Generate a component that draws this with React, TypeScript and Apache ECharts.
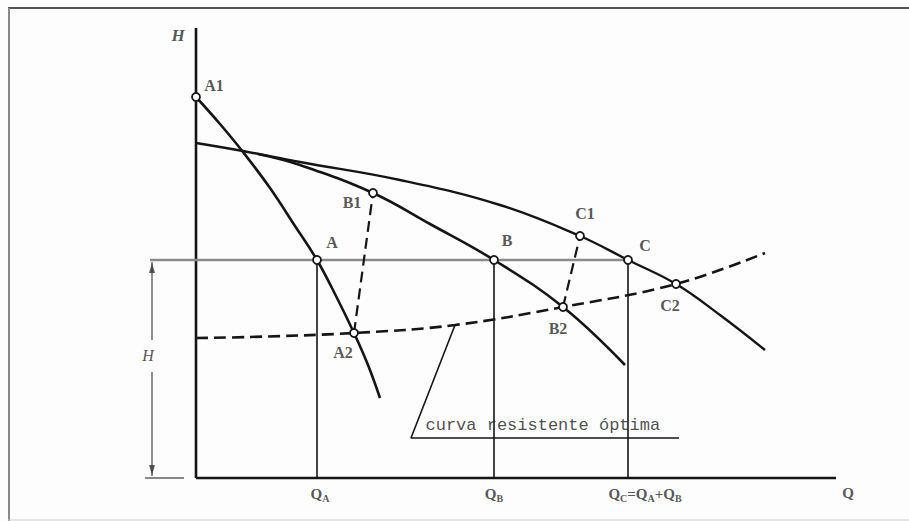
import React, { useEffect, useRef } from "react";
import * as echarts from "echarts";

// Units: Q (horizontal) and H (vertical)
const axisQ = [[0, 0], [64, 0]];
const axisH = [[0, 0], [0, 45]];
const curveA = [[0, 38.1], [2.4, 35.4], [4.7, 32.6], [7.4, 29.0], [9.9, 25.2], [12.1, 21.8], [14.0, 18.2], [15.8, 14.5], [17.2, 11.3], [18.4, 8.0]];
const curveB = [[6.2, 32.4], [10.4, 31.3], [17.7, 28.5], [23.4, 25.4], [29.8, 21.8], [36.7, 17.1], [42.9, 11.3]];
const curveC = [[0, 33.5], [4.7, 32.7], [10.4, 31.6], [20.4, 29.8], [30.4, 27.3], [38.4, 24.2], [43.2, 21.8], [48.0, 19.4], [52.4, 16.3], [56.9, 12.8]];
const resistance = [[0, 14.0], [5.4, 14.1], [15.8, 14.5], [25.9, 15.3], [36.7, 17.1], [48.0, 19.4], [56.9, 22.5]];
const connectorAB = [[15.8, 14.5], [17.7, 28.5]];
const connectorBC = [[36.7, 17.1], [38.4, 24.2]];
const headLevel = [[-4.6, 21.8], [43.2, 21.8]];
const verticalA = [[12.1, 0], [12.1, 21.8]];
const verticalB = [[29.8, 0], [29.8, 21.8]];
const verticalC = [[43.2, 0], [43.2, 21.8]];
const dimUpper = [[-4.4, 21.6], [-4.4, 13.8]];
const dimLower = [[-4.4, 10.6], [-4.4, 0.2]];
const dimBase = [[-5.1, 0], [-1.2, 0]];
const leader = [[25.9, 15.3], [21.5, 4.0], [48.3, 4.0]];

const pointNames = ["A1", "B1", "A", "B", "C1", "C", "A2", "B2", "C2"];
const pointValues = [[0, 38.1], [17.7, 28.5], [12.1, 21.8], [29.8, 21.8], [38.4, 24.2], [43.2, 21.8], [15.8, 14.5], [36.7, 17.1], [48.0, 19.4]];
const pointLabelPos = [[1.8, 39.3], [15.6, 27.6], [13.6, 23.6], [31.1, 23.8], [38.9, 26.5], [44.9, 23.3], [14.7, 12.6], [36.2, 15.0], [47.4, 17.3]];

const tickLabels = ["{q|Q}{s|A}", "{q|Q}{s|B}", "{q|Q}{s|C}{q|=Q}{s|A}{q|+Q}{s|B}", "{q|Q}"];
const tickPos = [[12.4, -1.6], [29.8, -1.6], [44.9, -1.6], [65.2, -1.5]];
const curveLabel = "curva resistente óptima";
const curveLabelPos = [22.9, 5.3];
const axisHPos = [-1.8, 44.3];
const dimHPos = [-4.8, 12.3];

const INK = "#151515";

export default function App() {
  const ref = useRef<HTMLDivElement>(null);
  useEffect(() => {
    if (!ref.current) return;
    const chart = echarts.init(ref.current, undefined, { renderer: "svg" });
    const lineS = (data: number[][], opts: any = {}) => ({
      type: "line",
      data,
      symbol: "none",
      clip: false,
      smooth: opts.smooth ?? false,
      silent: true,
      z: opts.z ?? 2,
      lineStyle: {
        color: opts.color ?? INK,
        width: opts.width ?? 2.5,
        type: opts.type ?? "solid",
        cap: "butt",
      },
    });
    const textS = (items: any[], z = 5) => ({
      type: "scatter",
      symbolSize: 1,
      clip: false,
      silent: true,
      z,
      itemStyle: { color: "transparent" },
      data: items,
    });
    const serif = "'Liberation Serif', 'DejaVu Serif', serif";
    const option: any = {
      animation: false,
      backgroundColor: "#fdfdfd",
      grid: { left: 116, right: 53, top: 28, bottom: 13 },
      xAxis: {
        type: "value",
        min: -8,
        max: 66,
        axisLine: { show: false },
        axisTick: { show: false },
        axisLabel: { show: false },
        splitLine: { show: false },
      },
      yAxis: {
        type: "value",
        min: -3,
        max: 45,
        axisLine: { show: false },
        axisTick: { show: false },
        axisLabel: { show: false },
        splitLine: { show: false },
      },
      graphic: [
        { type: "line", shape: { x1: 8, y1: 8, x2: 909, y2: 8 }, style: { stroke: "#555", lineWidth: 2 } },
        { type: "line", shape: { x1: 9, y1: 8, x2: 9, y2: 521 }, style: { stroke: "#888", lineWidth: 2 } },
        { type: "line", shape: { x1: 8, y1: 520, x2: 909, y2: 520 }, style: { stroke: "#ccc", lineWidth: 1 } },
      ],
      series: [
        lineS(axisQ, { width: 2.6 }),
        lineS(axisH, { width: 2.6 }),
        lineS(headLevel, { color: "#8a8a8a", width: 2.5 }),
        lineS(verticalA, { width: 1.6 }),
        lineS(verticalB, { width: 1.6 }),
        lineS(verticalC, { width: 1.6 }),
        lineS(dimUpper, { color: "#555", width: 1.3 }),
        lineS(dimLower, { color: "#555", width: 1.3 }),
        lineS(dimBase, { color: "#888", width: 2 }),
        lineS(leader, { width: 1.6 }),
        lineS(curveC, { smooth: 0.4, width: 2.4 }),
        lineS(curveB, { smooth: 0.4, width: 2.6 }),
        lineS(curveA, { smooth: 0.4, width: 2.6 }),
        lineS(resistance, { smooth: 0.4, width: 2.6, type: [12, 6] }),
        lineS(connectorAB, { width: 2.2, type: [11, 6] }),
        lineS(connectorBC, { width: 2.2, type: [11, 6] }),
        {
          type: "scatter",
          clip: false,
          silent: true,
          z: 4,
          symbol: "triangle",
          symbolSize: [6, 10],
          itemStyle: { color: "#333" },
          data: [
            { value: [-4.4, 21.0], symbolRotate: 0 },
            { value: [-4.4, 0.8], symbolRotate: 180 },
          ],
        },
        {
          type: "scatter",
          clip: false,
          silent: true,
          z: 6,
          symbol: "circle",
          symbolSize: 8,
          itemStyle: { color: "#fff", borderColor: INK, borderWidth: 1.8, opacity: 1 },
          data: pointValues.map((v, i) => ({ name: pointNames[i], value: v })),
        },
        textS(
          pointNames.map((n, i) => ({
            value: pointLabelPos[i],
            label: {
              show: true,
              position: "inside",
              formatter: n,
              fontFamily: serif,
              fontSize: 16,
              fontWeight: "bold",
              color: "#2a2a2a",
            },
          }))
        ),
        textS(
          tickLabels.map((t, i) => ({
            value: tickPos[i],
            label: {
              show: true,
              position: "inside",
              formatter: t,
              rich: {
                q: { fontFamily: serif, fontSize: 15, fontWeight: "bold", color: "#2a2a2a", lineHeight: 20, verticalAlign: "middle" },
                s: { fontFamily: serif, fontSize: 10, fontWeight: "bold", color: "#2a2a2a", lineHeight: 10, verticalAlign: "bottom", padding: [0, 0, 1, 0] },
              },
            },
          }))
        ),
        textS([
          {
            value: curveLabelPos,
            label: {
              show: true,
              position: "right",
              distance: 0,
              formatter: curveLabel,
              fontFamily: "'Liberation Mono', 'DejaVu Sans Mono', monospace",
              fontSize: 17,
              color: "#222",
            },
          },
          {
            value: axisHPos,
            label: {
              show: true,
              position: "inside",
              formatter: "H",
              fontFamily: serif,
              fontSize: 17,
              fontWeight: "bold",
              fontStyle: "italic",
              color: "#2a2a2a",
            },
          },
          {
            value: dimHPos,
            label: {
              show: true,
              position: "inside",
              formatter: "H",
              fontFamily: serif,
              fontSize: 16,
              fontStyle: "italic",
              color: "#2a2a2a",
            },
          },
        ]),
      ],
    };
    chart.setOption(option);
    return () => chart.dispose();
  }, []);
  return (
    <div
      ref={ref}
      style={{ position: "absolute", left: 0, top: 0, width: 909, height: 521 }}
    />
  );
}
